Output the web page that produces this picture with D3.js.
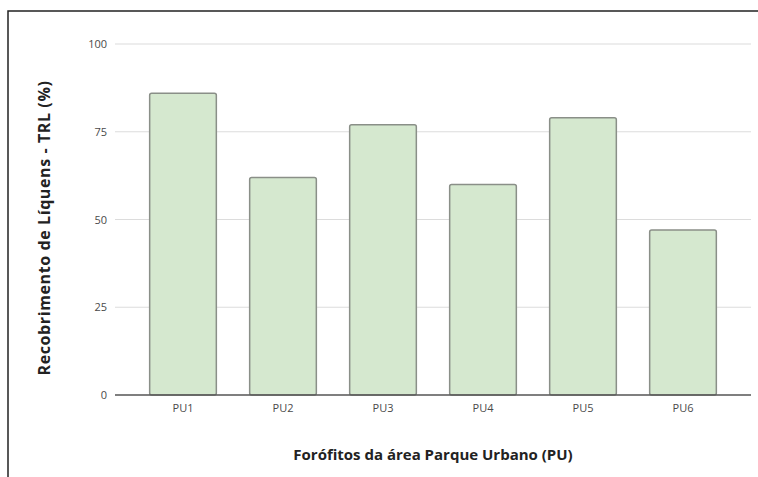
<!DOCTYPE html>
<html>
<head>
<meta charset="utf-8">
<script src="https://cdn.jsdelivr.net/npm/d3@7"></script>
<style>
  html, body { margin: 0; padding: 0; background: #fff; }
  svg { display: block; font-family: "Open Sans", "DejaVu Sans", sans-serif; }
</style>
</head>
<body>
<svg id="chart" width="758" height="477"></svg>
<script>
// Lichen cover per phorophyte, Parque Urbano
const categories = ["PU1", "PU2", "PU3", "PU4", "PU5", "PU6"];
const values = [86, 62, 77, 60, 79, 47];
const yTicks = [0, 25, 50, 75, 100];
const xTitle = "Forófitos da área Parque Urbano (PU)";
const yTitle = "Recobrimento de Líquens - TRL (%)";

const svg = d3.select("#chart");

// outer frame (runs past the right and bottom edges)
svg.append("rect")
  .attr("x", 8).attr("y", 11)
  .attr("width", 800).attr("height", 500)
  .attr("fill", "none").attr("stroke", "#222").attr("stroke-width", 1.5);

const plotLeft = 115, plotRight = 751, plotTop = 44, plotBottom = 395;

const y = d3.scaleLinear().domain([0, 100]).range([plotBottom, plotTop]);
const x = d3.scaleBand().domain(categories).range([133, 733])
  .paddingInner(1/3).paddingOuter(1/6);

// horizontal gridlines
svg.append("g")
  .selectAll("line")
  .data(yTicks.filter(d => d > 0))
  .join("line")
  .attr("x1", plotLeft).attr("x2", plotRight)
  .attr("y1", d => y(d)).attr("y2", d => y(d))
  .attr("stroke", "#dcdcdc").attr("stroke-width", 1.2);

// y axis labels
const yAxis = d3.axisLeft(y).tickValues(yTicks).tickSize(0).tickPadding(8);
const yg = svg.append("g").attr("transform", `translate(${plotLeft},0)`).call(yAxis);
yg.select(".domain").remove();
yg.selectAll("text").attr("font-size", 11).attr("fill", "#4a4a4a")
  .attr("font-family", "Open Sans, sans-serif");

// bars
svg.append("g")
  .selectAll("rect")
  .data(values)
  .join("rect")
  .attr("x", (d, i) => x(categories[i]))
  .attr("y", d => y(d))
  .attr("width", x.bandwidth())
  .attr("height", d => y(0) - y(d))
  .attr("rx", 2)
  .attr("fill", "#d5e8cf")
  .attr("stroke", "#8a8f88")
  .attr("stroke-width", 1.5);

// baseline
svg.append("line")
  .attr("x1", plotLeft).attr("x2", plotRight)
  .attr("y1", y(0)).attr("y2", y(0))
  .attr("stroke", "#555").attr("stroke-width", 1.5);

// x axis labels
const xAxis = d3.axisBottom(x).tickSize(0).tickPadding(9);
const xg = svg.append("g").attr("transform", `translate(0,${y(0)})`).call(xAxis);
xg.select(".domain").remove();
xg.selectAll("text").attr("font-size", 11).attr("fill", "#4a4a4a")
  .attr("font-family", "Open Sans, sans-serif");

// axis titles
svg.append("text")
  .attr("x", (plotLeft + plotRight) / 2).attr("y", 460)
  .attr("text-anchor", "middle")
  .attr("font-size", 15).attr("font-weight", "bold").attr("fill", "#222")
  .text(xTitle);

svg.append("text")
  .attr("transform", `translate(50,228) rotate(-90)`)
  .attr("text-anchor", "middle")
  .attr("font-size", 16).attr("letter-spacing", 0.6)
  .attr("font-weight", "bold").attr("fill", "#222")
  .text(yTitle);
</script>
</body>
</html>
